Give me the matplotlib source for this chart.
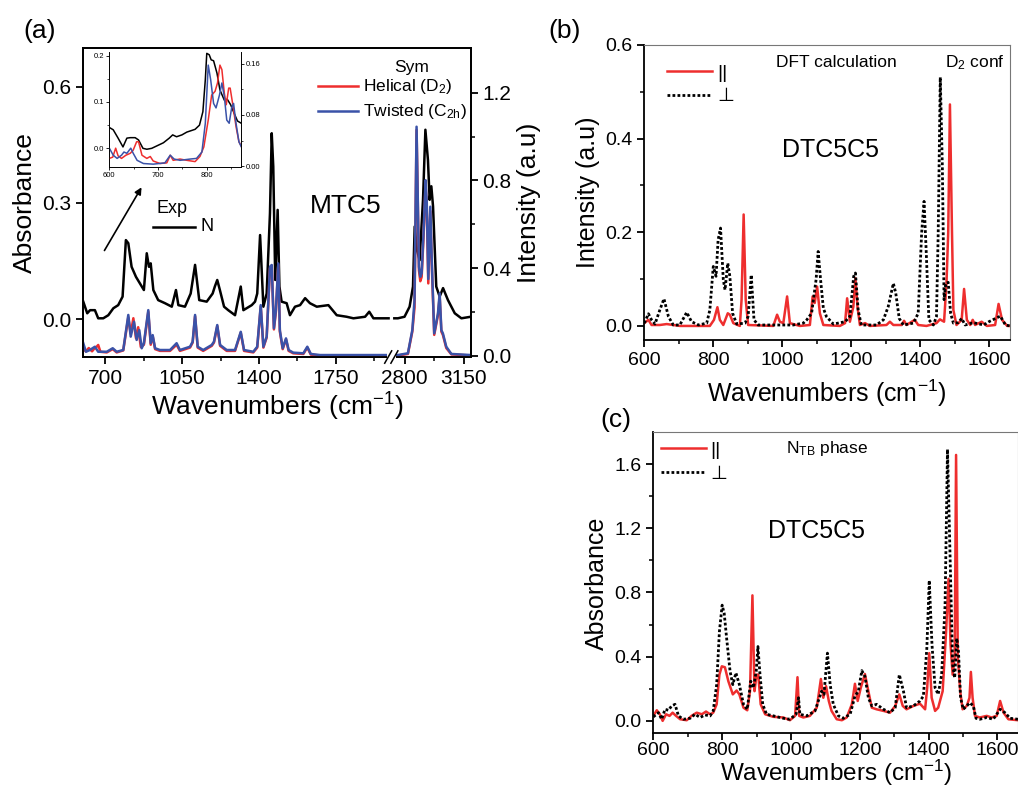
import numpy as np
import matplotlib
matplotlib.use("Agg")
import matplotlib.pyplot as plt
from matplotlib.lines import Line2D
from matplotlib.patches import Rectangle

plt.rcParams['font.family'] = ['Liberation Sans', 'DejaVu Sans']
plt.rcParams['mathtext.fontset'] = 'custom'
plt.rcParams['mathtext.rm'] = 'Liberation Sans'
plt.rcParams['mathtext.it'] = 'Liberation Sans:italic'
plt.rcParams['mathtext.bf'] = 'Liberation Sans:bold'

RED = '#ee2e2e'
BLUE = '#3a52a8'

# ---------------- (a) MTC5, experiment (left axis) ----------------
exp_x_lo = [600, 618, 631, 653, 668, 691, 714, 737, 759, 779, 794, 805, 820, 840, 858, 876, 889, 899, 907, 919,
            941, 972, 1003, 1022, 1033, 1063, 1089, 1109, 1128, 1162, 1189, 1199, 1210, 1222, 1241, 1260, 1291, 1317, 1329, 1367,
            1382, 1392, 1405, 1420, 1435, 1450, 1458, 1465, 1474, 1485, 1493, 1503, 1526, 1541, 1564, 1587, 1610, 1632, 1663, 1716,
            1754, 1799, 1830, 1883, 1902, 1921, 1990]
exp_y_lo = [0.045, 0.015, 0.023, 0.023, 0.002, 0.002, 0.010, 0.028, 0.036, 0.058, 0.204, 0.196, 0.135, 0.109, 0.092, 0.075, 0.170, 0.135, 0.144, 0.075,
            0.049, 0.041, 0.032, 0.075, 0.036, 0.032, 0.066, 0.140, 0.049, 0.045, 0.066, 0.084, 0.101, 0.075, 0.032, 0.023, 0.010, 0.084, 0.023, 0.036,
            0.045, 0.066, 0.217, 0.032, 0.066, 0.273, 0.480, 0.394, 0.101, 0.282, 0.084, 0.045, 0.041, 0.010, 0.032, 0.036, 0.054, 0.041, 0.032, 0.036,
            0.010, 0.006, 0.002, 0.006, 0.019, 0.002, 0.002]
exp_x_hi = [2740, 2761, 2800, 2830, 2850, 2860, 2873, 2889, 2909, 2923, 2938, 2948, 2958, 2968, 2987, 3007, 3027, 3056, 3096, 3135, 3190]
exp_y_hi = [0.002, 0.002, 0.006, 0.032, 0.084, 0.239, 0.179, 0.152, 0.308, 0.489, 0.411, 0.308, 0.343, 0.291, 0.084, 0.058, 0.080, 0.049, 0.015, 0.002, 0.006]

# ---------------- (a) calculated spectra (right axis) ----------------
hel_x = [600, 612, 625, 640, 648, 660, 668, 678, 707, 734, 752, 782, 805, 816, 828, 840, 850, 862, 876, 896,
         907, 916, 927, 949, 995, 1025, 1040, 1086, 1098, 1109, 1121, 1146, 1185, 1195, 1210, 1223, 1253, 1291, 1317, 1332,
         1374, 1392, 1408, 1420, 1435, 1450, 1458, 1468, 1477, 1488, 1495, 1508, 1523, 1535, 1556, 1602, 1620, 1636, 1678, 1990,
         2761, 2820, 2846, 2859, 2871, 2885, 2893, 2901, 2912, 2924, 2931, 2940, 2952, 2960, 2975, 2997, 3007, 3017, 3026, 3046,
         3076, 3190]
hel_y = [0.03, 0.02, 0.035, 0.02, 0.03, 0.04, 0.049, 0.018, 0.015, 0.03, 0.015, 0.024, 0.175, 0.10, 0.171, 0.08, 0.13, 0.04, 0.05, 0.20,
         0.05, 0.09, 0.03, 0.022, 0.022, 0.05, 0.022, 0.037, 0.06, 0.18, 0.037, 0.022, 0.045, 0.06, 0.135, 0.045, 0.022, 0.022, 0.105, 0.022,
         0.015, 0.037, 0.225, 0.037, 0.083, 0.40, 0.41, 0.12, 0.20, 0.415, 0.11, 0.03, 0.075, 0.022, 0.011, 0.008, 0.037, 0.005, 0.001, 0.001,
         0.001, 0.008, 0.11, 0.22, 1.03, 0.39, 0.34, 0.36, 0.54, 0.78, 0.68, 0.33, 0.66, 0.43, 0.095, 0.185, 0.27, 0.11, 0.095, 0.035,
         0.006, 0.001]
twi_x = [600, 612, 630, 653, 668, 707, 734, 752, 782, 805, 816, 831, 843, 855, 866, 876, 896, 907, 916, 927,
         949, 995, 1025, 1040, 1086, 1098, 1109, 1121, 1146, 1185, 1195, 1210, 1223, 1253, 1291, 1317, 1332, 1374, 1392, 1408,
         1420, 1435, 1450, 1458, 1468, 1477, 1488, 1495, 1508, 1523, 1535, 1556, 1602, 1620, 1636, 1678, 1990,
         2761, 2820, 2846, 2859, 2871, 2885, 2893, 2901, 2912, 2924, 2931, 2940, 2952, 2960, 2975, 2997, 3007, 3017, 3026, 3046,
         3076, 3190]
twi_y = [0.057, 0.018, 0.026, 0.041, 0.018, 0.018, 0.034, 0.018, 0.026, 0.186, 0.087, 0.155, 0.072, 0.117, 0.034, 0.057, 0.208, 0.057, 0.094, 0.034,
         0.026, 0.026, 0.057, 0.026, 0.041, 0.064, 0.186, 0.041, 0.026, 0.049, 0.064, 0.140, 0.049, 0.026, 0.026, 0.109, 0.026, 0.018, 0.041, 0.231,
         0.041, 0.087, 0.406, 0.414, 0.125, 0.208, 0.421, 0.117, 0.034, 0.079, 0.026, 0.014, 0.011, 0.041, 0.008, 0.003, 0.003,
         0.003, 0.011, 0.117, 0.254, 1.045, 0.406, 0.360, 0.376, 0.558, 0.801, 0.70, 0.35, 0.68, 0.45, 0.102, 0.193, 0.285, 0.117, 0.102, 0.041,
         0.008, 0.003]

# ---------------- (a) inset, 600-870 cm-1 ----------------
ins_exp_x = [600, 608, 618, 628, 636, 643, 653, 660, 669, 677, 687, 697, 711, 723, 730, 738, 749, 759, 776, 785,
             792, 797, 800, 805, 809, 814, 821, 827, 836, 842, 849, 856, 863, 871]
ins_exp_y = [0.045, 0.040, 0.022, 0.003, 0.022, 0.023, 0.023, 0.018, 0.000, -0.002, 0.000, 0.005, 0.012, 0.022, 0.029, 0.025, 0.029, 0.035, 0.041, 0.050,
             0.079, 0.148, 0.205, 0.202, 0.191, 0.189, 0.162, 0.126, 0.104, 0.106, 0.094, 0.076, 0.059, 0.054]
ins_hel_x = [600, 607, 613, 618, 625, 634, 643, 649, 656, 660, 667, 677, 684, 690, 704, 718, 725, 731, 745, 759,
             776, 786, 794, 803, 810, 817, 822, 827, 831, 836, 840, 845, 848, 853, 860, 866, 871]
ins_hel_y = [0.012, 0.014, 0.028, 0.016, 0.012, 0.017, 0.020, 0.025, 0.038, 0.038, 0.017, 0.012, 0.015, 0.008, 0.004, 0.005, 0.017, 0.009, 0.011, 0.009,
             0.007, 0.015, 0.030, 0.072, 0.111, 0.117, 0.130, 0.158, 0.151, 0.114, 0.096, 0.122, 0.122, 0.098, 0.062, 0.038, 0.031]
ins_twi_x = [600, 608, 616, 625, 630, 636, 644, 649, 657, 670, 690, 714, 725, 733, 745, 766, 779, 790, 797, 803,
             808, 814, 819, 826, 831, 836, 841, 846, 851, 855, 860, 866, 871]
ins_twi_y = [0.028, 0.017, 0.012, 0.017, 0.022, 0.020, 0.028, 0.020, 0.009, 0.004, 0.003, 0.005, 0.017, 0.011, 0.009, 0.011, 0.012, 0.022, 0.067, 0.158,
             0.135, 0.098, 0.091, 0.111, 0.130, 0.109, 0.072, 0.067, 0.091, 0.098, 0.067, 0.038, 0.030]

# ---------------- (b) DFT, D2 conformer ----------------
dft_par_x = [600, 612, 621, 645, 665, 703, 790, 802, 812, 819, 829, 842, 848, 858, 877, 882, 888, 894, 901, 974,
             985, 993, 1003, 1014, 1022, 1051, 1080, 1088, 1094, 1101, 1109, 1119, 1167, 1182, 1188, 1196, 1206, 1212, 1218, 1225,
             1240, 1254, 1302, 1312, 1322, 1346, 1353, 1360, 1384, 1394, 1418, 1447, 1457, 1469, 1476, 1481, 1486, 1492, 1496, 1505,
             1520, 1527, 1535, 1545, 1552, 1559, 1578, 1593, 1617, 1627, 1637, 1652, 1660]
dft_par_y = [0.006, 0.013, 0.002, 0.002, 0.004, 0.0, 0.0, 0.013, 0.040, 0.013, 0.002, 0.027, 0.024, 0.006, 0.0, 0.056, 0.238, 0.056, 0.002, 0.0,
             0.024, 0.009, 0.006, 0.063, 0.006, 0.0, 0.002, 0.063, 0.049, 0.084, 0.027, 0.002, 0.0, 0.006, 0.059, 0.009, 0.041, 0.102, 0.041, 0.002,
             0.006, 0.0, 0.002, 0.009, 0.002, 0.002, 0.011, 0.002, 0.013, 0.002, 0.0, 0.006, 0.014, 0.009, 0.091, 0.199, 0.473, 0.199, 0.034, 0.002,
             0.013, 0.079, 0.013, 0.002, 0.013, 0.002, 0.009, 0.0, 0.002, 0.047, 0.013, 0.0, 0.0]
dft_perp_x = [600, 612, 621, 631, 645, 657, 670, 684, 703, 723, 737, 757, 781, 790, 800, 808, 814, 821, 829, 834,
              842, 848, 856, 868, 892, 901, 910, 918, 930, 993, 1032, 1061, 1071, 1085, 1098, 1104, 1111, 1119, 1128, 1148,
              1182, 1196, 1207, 1212, 1220, 1229, 1273, 1293, 1307, 1322, 1329, 1339, 1351, 1380, 1394, 1404, 1411, 1417, 1425, 1438,
              1447, 1452, 1458, 1464, 1469, 1474, 1481, 1488, 1496, 1510, 1520, 1530, 1554, 1584, 1599, 1632, 1647, 1660]
dft_perp_y = [0.006, 0.026, 0.013, 0.004, 0.034, 0.058, 0.020, 0.002, 0.002, 0.029, 0.009, 0.002, 0.006, 0.034, 0.127, 0.106, 0.184, 0.209, 0.099, 0.077,
              0.134, 0.106, 0.027, 0.004, 0.006, 0.020, 0.109, 0.013, 0.002, 0.002, 0.002, 0.006, 0.013, 0.027, 0.099, 0.159, 0.099, 0.038, 0.020, 0.004,
              0.009, 0.020, 0.106, 0.113, 0.034, 0.002, 0.002, 0.013, 0.041, 0.091, 0.070, 0.016, 0.002, 0.006, 0.027, 0.199, 0.266, 0.163, 0.013, 0.002,
              0.020, 0.199, 0.531, 0.341, 0.056, 0.091, 0.093, 0.027, 0.006, 0.007, 0.016, 0.002, 0.007, 0.002, 0.009, 0.021, 0.002, 0.0]

# ---------------- (c) NTB phase, polarised absorbance ----------------
ntb_par_x = [600, 610, 619, 627, 637, 647, 656, 666, 678, 697, 711, 726, 741, 753, 765, 774, 784, 792, 799, 808,
             818, 831, 842, 850, 862, 873, 881, 888, 894, 900, 905, 912, 925, 949, 978, 997, 1012, 1019, 1024, 1036,
             1055, 1075, 1087, 1094, 1102, 1110, 1118, 1133, 1148, 1162, 1177, 1186, 1194, 1203, 1215, 1225, 1235, 1249, 1269, 1288,
             1303, 1315, 1325, 1336, 1356, 1375, 1390, 1396, 1402, 1409, 1419, 1428, 1441, 1451, 1458, 1464, 1470, 1476, 1480, 1485,
             1492, 1499, 1511, 1519, 1523, 1528, 1535, 1549, 1569, 1583, 1598, 1608, 1618, 1632, 1660]
ntb_par_y = [0.031, 0.066, 0.041, 0.0, 0.041, 0.031, 0.051, 0.031, 0.010, 0.004, 0.031, 0.051, 0.041, 0.058, 0.041, 0.051, 0.103, 0.288, 0.340, 0.334,
             0.247, 0.165, 0.189, 0.165, 0.082, 0.066, 0.185, 0.782, 0.185, 0.288, 0.288, 0.103, 0.041, 0.025, 0.021, 0.004, 0.031, 0.272, 0.031, 0.021,
             0.031, 0.082, 0.261, 0.144, 0.216, 0.124, 0.062, 0.010, 0.004, 0.021, 0.103, 0.231, 0.124, 0.206, 0.292, 0.185, 0.082, 0.072, 0.062, 0.051,
             0.093, 0.165, 0.093, 0.072, 0.093, 0.107, 0.072, 0.206, 0.422, 0.144, 0.062, 0.082, 0.185, 0.556, 0.885, 0.474, 0.288, 0.40, 1.657, 0.40,
             0.185, 0.072, 0.093, 0.144, 0.305, 0.144, 0.031, 0.021, 0.031, 0.021, 0.031, 0.124, 0.051, 0.010, 0.004]
ntb_perp_x = [600, 615, 624, 634, 644, 653, 663, 673, 687, 707, 721, 736, 750, 765, 774, 784, 792, 800, 806, 813,
              823, 831, 840, 850, 862, 873, 883, 891, 899, 904, 910, 918, 929, 949, 978, 997, 1015, 1022, 1026, 1046,
              1070, 1089, 1096, 1106, 1114, 1123, 1138, 1152, 1172, 1186, 1196, 1206, 1215, 1225, 1235, 1249, 1269, 1288, 1303, 1315,
              1327, 1336, 1356, 1375, 1385, 1395, 1402, 1410, 1419, 1428, 1438, 1448, 1455, 1462, 1470, 1476, 1482, 1487, 1493, 1501,
              1511, 1520, 1530, 1538, 1549, 1569, 1588, 1608, 1622, 1637, 1660]
ntb_perp_y = [0.025, 0.051, 0.010, 0.072, 0.066, 0.093, 0.103, 0.031, 0.010, 0.016, 0.041, 0.021, 0.037, 0.031, 0.062, 0.226, 0.556, 0.721, 0.669, 0.515,
              0.309, 0.226, 0.299, 0.226, 0.103, 0.072, 0.247, 0.206, 0.309, 0.463, 0.288, 0.103, 0.041, 0.031, 0.016, 0.010, 0.041, 0.144, 0.041, 0.031,
              0.062, 0.185, 0.165, 0.422, 0.226, 0.103, 0.031, 0.016, 0.041, 0.154, 0.185, 0.313, 0.278, 0.144, 0.093, 0.103, 0.072, 0.051, 0.082, 0.288,
              0.185, 0.082, 0.093, 0.124, 0.154, 0.453, 0.875, 0.474, 0.206, 0.165, 0.288, 0.721, 1.692, 1.071, 0.350, 0.268, 0.515, 0.432, 0.144, 0.072,
              0.093, 0.113, 0.093, 0.016, 0.010, 0.021, 0.010, 0.072, 0.051, 0.016, 0.010]

DOT = (0, (1, 0.8))


# broken x axis for panel (a): 600-2000 and 2720-3190 (right part compressed)
def brk_fwd(x):
    x = np.asarray(x, float)
    return np.where(x <= 2000, x - 600,
                    np.where(x >= 2720, 1400.72 + (x - 2720) * 0.773, 1400 + (x - 2000) * 0.001))


def brk_inv(u):
    u = np.asarray(u, float)
    return np.where(u <= 1400, u + 600,
                    np.where(u >= 1400.72, 2720 + (u - 1400.72) / 0.773, 2000 + (u - 1400) / 0.001))


fig = plt.figure(figsize=(10.18, 7.89), dpi=100)

# ======== panel (a) ========
ax_a = fig.add_axes([0.0818, 0.5475, 0.3806, 0.3916])
ax_a.set_xscale('function', functions=(brk_fwd, brk_inv))
ax_a.set_xlim(600, 3190)
ax_ar = ax_a.twinx()

ax_a.plot(exp_x_lo, exp_y_lo, color='black', lw=1.8)
ax_a.plot(exp_x_hi, exp_y_hi, color='black', lw=1.8)
ax_ar.plot(hel_x, hel_y, color=RED, lw=1.8)
ax_ar.plot(twi_x, twi_y, color=BLUE, lw=1.8)

ax_a.set_ylim(-0.098, 0.70)
ax_ar.set_ylim(-0.006, 1.404)
ax_a.set_yticks([0.0, 0.3, 0.6], ['0.0', '0.3', '0.6'])
ax_ar.set_yticks([0.0, 0.4, 0.8, 1.2], ['0.0', '0.4', '0.8', '1.2'])
ax_ar.set_yticks([0.2, 0.6, 1.0], minor=True)
ax_a.set_xticks([700, 1050, 1400, 1750, 2800, 3150], ['700', '1050', '1400', '1750', '2800', '3150'])
ax_a.set_xticks([875, 1225, 1575, 1925, 2975], minor=True)
for ax in (ax_a, ax_ar):
    ax.tick_params(which='major', direction='out', length=5, width=1.3, labelsize=15)
    ax.tick_params(which='minor', direction='out', length=3, width=1.1)
    for s in ax.spines.values():
        s.set_linewidth(1.3)
ax_a.set_ylabel('Absorbance', fontsize=19)
ax_ar.set_ylabel('Intensity (a.u)', fontsize=19)
ax_a.set_xlabel('Wavenumbers (cm$^{-1}$)', fontsize=19, labelpad=2)

# axis break marks
ax_ar.add_patch(Rectangle((0.784, -0.02), 0.022, 0.04, transform=ax_ar.transAxes,
                          facecolor='white', edgecolor='none', clip_on=False, zorder=5))
for xb in (0.787, 0.803):
    ax_ar.add_line(Line2D([xb - 0.009, xb + 0.009], [-0.02, 0.02], transform=ax_ar.transAxes,
                          color='black', lw=1.1, clip_on=False, zorder=6))

ax_ar.text(0.676, 0.489, 'MTC5', transform=ax_ar.transAxes, fontsize=19, ha='center', va='center')
ax_ar.text(0.229, 0.482, 'Exp', transform=ax_ar.transAxes, fontsize=13, ha='center', va='center')
ax_ar.add_line(Line2D([0.180, 0.288], [0.421, 0.421], transform=ax_ar.transAxes, color='black', lw=1.8))
ax_ar.text(0.302, 0.421, 'N', transform=ax_ar.transAxes, fontsize=13, ha='left', va='center')
ax_ar.text(0.848, 0.938, 'Sym', transform=ax_ar.transAxes, fontsize=12.5, ha='center', va='center')
ax_ar.add_line(Line2D([0.605, 0.709], [0.877, 0.877], transform=ax_ar.transAxes, color=RED, lw=1.8))
ax_ar.add_line(Line2D([0.605, 0.709], [0.796, 0.796], transform=ax_ar.transAxes, color=BLUE, lw=1.8))
ax_ar.text(0.722, 0.877, 'Helical (D$_2$)', transform=ax_ar.transAxes, fontsize=12.5, ha='left', va='center')
ax_ar.text(0.722, 0.796, 'Twisted (C$_{\\mathrm{2h}}$)', transform=ax_ar.transAxes, fontsize=12.5, ha='left', va='center')
ax_ar.annotate('', xy=(0.154, 0.557), xytext=(0.051, 0.337), xycoords='axes fraction',
               arrowprops=dict(arrowstyle='-|>', color='black', lw=1.2, mutation_scale=10))

# inset
ins = fig.add_axes([0.1074, 0.7887, 0.1297, 0.1458])
ins.set_facecolor('none')
ins_r = ins.twinx()
ins.plot(ins_exp_x, ins_exp_y, color='black', lw=1.1)
ins_r.plot(ins_hel_x, ins_hel_y, color=RED, lw=1.1)
ins_r.plot(ins_twi_x, ins_twi_y, color=BLUE, lw=1.1)
ins.set_xlim(600, 871)
ins.set_ylim(-0.0397, 0.2086)
ins_r.set_ylim(-0.001, 0.179)
ins.set_xticks([600, 700, 800], ['600', '700', '800'])
ins.set_xticks([650, 750, 850], minor=True)
ins.set_yticks([0.0, 0.1, 0.2], ['0.0', '0.1', '0.2'])
ins.set_yticks([0.05, 0.15], minor=True)
ins_r.set_yticks([0.0, 0.08, 0.16], ['0.00', '0.08', '0.16'])
ins_r.set_yticks([0.04, 0.12], minor=True)
for ax in (ins, ins_r):
    ax.tick_params(which='major', direction='out', length=2, width=0.6, labelsize=5.5, pad=1.5)
    ax.tick_params(which='minor', direction='out', length=1.2, width=0.5)
    ax.spines['top'].set_visible(False)
    for s in ax.spines.values():
        s.set_linewidth(0.6)

# ======== panel (b) ========
ax_b = fig.add_axes([0.6329, 0.5691, 0.3592, 0.3739])
ax_b.plot(dft_par_x, dft_par_y, color=RED, lw=1.8, label='||')
ax_b.plot(dft_perp_x, dft_perp_y, color='black', lw=2.0, linestyle=DOT, label='⊥')
ax_b.set_xlim(600, 1660)
ax_b.set_ylim(-0.03, 0.6)
ax_b.set_yticks([0.0, 0.2, 0.4, 0.6], ['0.0', '0.2', '0.4', '0.6'])
ax_b.set_yticks([0.1, 0.3, 0.5], minor=True)
ax_b.set_ylabel('Intensity (a.u)', fontsize=18)
ax_b.text(0.526, 0.941, 'DFT calculation', transform=ax_b.transAxes, fontsize=12.5, ha='center', va='center')
ax_b.text(0.904, 0.941, 'D$_2$ conf', transform=ax_b.transAxes, fontsize=12.5, ha='center', va='center')
ax_b.text(0.508, 0.644, 'DTC5C5', transform=ax_b.transAxes, fontsize=18, ha='center', va='center')

# ======== panel (c) ========
ax_c = fig.add_axes([0.6418, 0.0705, 0.3582, 0.3816])
ax_c.plot(ntb_par_x, ntb_par_y, color=RED, lw=1.8, label='||')
ax_c.plot(ntb_perp_x, ntb_perp_y, color='black', lw=2.0, linestyle=DOT, label='⊥')
ax_c.set_xlim(600, 1660)
ax_c.set_ylim(-0.078, 1.798)
ax_c.set_yticks([0.0, 0.4, 0.8, 1.2, 1.6], ['0.0', '0.4', '0.8', '1.2', '1.6'])
ax_c.set_yticks([0.2, 0.6, 1.0, 1.4], minor=True)
ax_c.set_ylabel('Absorbance', fontsize=18)
ax_c.text(0.476, 0.945, 'N$_{\\mathrm{TB}}$ phase', transform=ax_c.transAxes, fontsize=12.5, ha='center', va='center')
ax_c.text(0.448, 0.673, 'DTC5C5', transform=ax_c.transAxes, fontsize=18, ha='center', va='center')

for ax, anchor in ((ax_b, (0.042, 0.961)), (ax_c, (0.0, 0.995))):
    ax.set_xticks([600, 800, 1000, 1200, 1400, 1600], ['600', '800', '1000', '1200', '1400', '1600'])
    ax.set_xticks([700, 900, 1100, 1300, 1500], minor=True)
    ax.tick_params(which='major', direction='out', length=5, width=1.3, labelsize=14)
    ax.tick_params(which='minor', direction='out', length=3, width=1.1)
    ax.spines['left'].set_linewidth(1.3)
    ax.spines['bottom'].set_linewidth(1.3)
    for side in ('top', 'right'):
        ax.spines[side].set_linewidth(0.8)
        ax.spines[side].set_color('#777777')
    ax.legend(loc='upper left', bbox_to_anchor=anchor, frameon=False, fontsize=14,
              handlelength=2.3, handletextpad=0.25, labelspacing=0.3, borderaxespad=0)

ax_b.set_xlabel('Wavenumbers (cm$^{-1}$)', fontsize=18, labelpad=6)
ax_c.tick_params(axis='x', which='major', pad=1)
ax_c.set_xlabel('Wavenumbers (cm$^{-1}$)', fontsize=17.5, labelpad=-1)

fig.text(0.0393, 0.9607, '(a)', fontsize=19, ha='center', va='center')
fig.text(0.555, 0.9607, '(b)', fontsize=19, ha='center', va='center')
fig.text(0.605, 0.4677, '(c)', fontsize=19, ha='center', va='center')

fig.savefig('out.png', dpi=100)
